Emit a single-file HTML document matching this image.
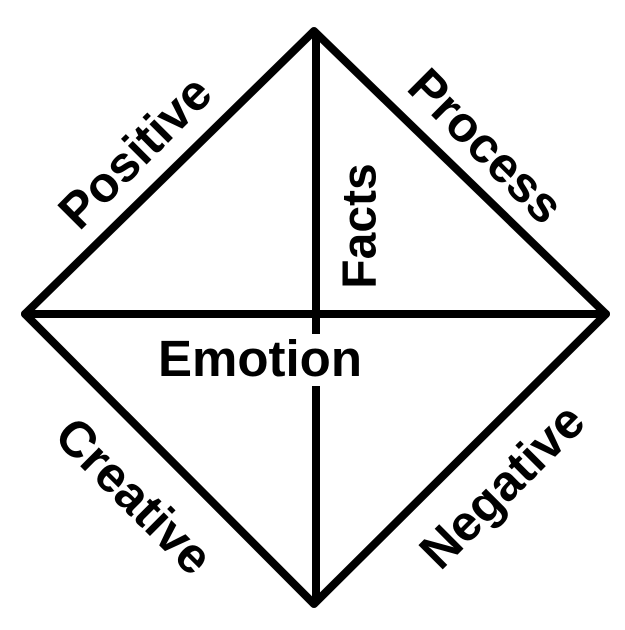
<!DOCTYPE html>
<html><head><style>html,body{margin:0;padding:0;background:#fff;}</style></head>
<body>
<svg width="625" height="625" viewBox="0 0 625 625" xmlns="http://www.w3.org/2000/svg">
<g stroke="#000" stroke-width="8" stroke-linejoin="round" stroke-linecap="round" fill="none">
<polygon points="314,31 606,314 314,604 25,314"/>
<line x1="25" y1="314" x2="606" y2="314"/>
<line x1="316" y1="33" x2="316" y2="334" stroke-linecap="butt"/>
<line x1="316" y1="386" x2="316" y2="602" stroke-linecap="butt"/>
</g>
<g font-family="'Liberation Sans', sans-serif" font-weight="bold" font-size="50" fill="#000" text-anchor="middle">
<text x="260" y="376" font-size="51">Emotion</text>
<text transform="translate(135,152) rotate(-45)" dominant-baseline="central">Positive</text>
<text transform="translate(486,146) rotate(45)" dominant-baseline="central">Process</text>
<text transform="translate(134,496) rotate(45)" dominant-baseline="central">Creative</text>
<text transform="translate(502,486) rotate(-45)" dominant-baseline="central">Negative</text>
<text transform="translate(360,226) rotate(-90)" dominant-baseline="central" font-size="48">Facts</text>
</g>
</svg>
</body></html>
